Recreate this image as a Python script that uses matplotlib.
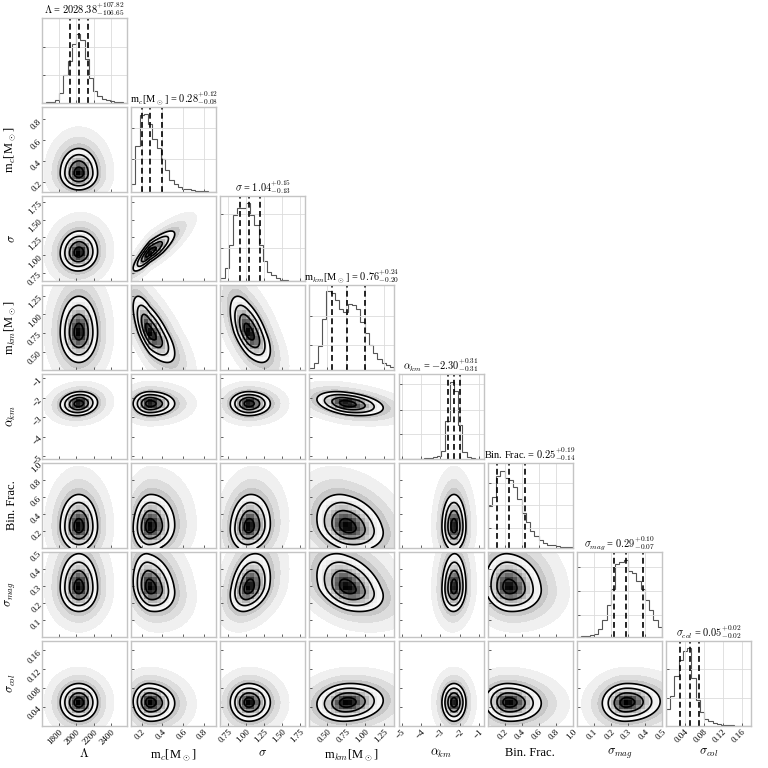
import numpy as np
import matplotlib
matplotlib.use("Agg")
import matplotlib.pyplot as plt
from matplotlib.colors import LinearSegmentedColormap

plt.rcParams['font.family'] = ['Liberation Serif', 'DejaVu Serif']
plt.rcParams['mathtext.fontset'] = 'cm'

# parameter names
labels = [r'$\Lambda$', r'm$_c$[M$_\odot$]', r'$\sigma$', r'm$_{km}$[M$_\odot$]',
          r'$\alpha_{km}$', 'Bin. Frac.', r'$\sigma_{mag}$', r'$\sigma_{col}$']

# summary values from the panel titles
medians = [2028.38, 0.28, 1.04, 0.76, -2.30, 0.25, 0.29, 0.05]
err_lo = [106.65, 0.08, 0.13, 0.20, 0.31, 0.14, 0.07, 0.02]
err_hi = [107.82, 0.12, 0.15, 0.24, 0.31, 0.19, 0.10, 0.02]

# axis ranges
ranges = [(1606, 2583), (0.10, 0.92), (0.64, 1.83), (0.26, 1.39),
          (-5.16, -0.77), (0.0, 1.0), (0.0, 0.5), (0.0, 0.18)]

ticks = [[1800, 2000, 2200, 2400], [0.2, 0.4, 0.6, 0.8], [0.75, 1.0, 1.25, 1.5, 1.75],
         [0.5, 0.75, 1.0, 1.25], [-5, -4, -3, -2, -1], [0.2, 0.4, 0.6, 0.8, 1.0],
         [0.1, 0.2, 0.3, 0.4, 0.5], [0.04, 0.08, 0.12, 0.16]]
tick_labels = [['1800', '2000', '2200', '2400'], ['0.2', '0.4', '0.6', '0.8'],
               ['0.75', '1.00', '1.25', '1.50', '1.75'], ['0.50', '0.75', '1.00', '1.25'],
               ['\u22125', '\u22124', '\u22123', '\u22122', '\u22121'],
               ['0.2', '0.4', '0.6', '0.8', '1.0'], ['0.1', '0.2', '0.3', '0.4', '0.5'],
               ['0.04', '0.08', '0.12', '0.16']]

# 1D histograms, 20 bins each (relative heights)
hist_lambda = [0.004, 0.006, 0.015, 0.04, 0.12, 0.33, 0.5, 0.7, 0.81, 0.74,
               0.52, 0.3, 0.14, 0.08, 0.05, 0.03, 0.02, 0.012, 0.006, 0.003]
hist_mc = [0.1, 0.54, 0.9, 0.92, 0.8, 0.62, 0.52, 0.39, 0.26, 0.14,
           0.09, 0.06, 0.04, 0.03, 0.02, 0.015, 0.01, 0.008, 0.005, 0.003]
hist_sigma = [0.03, 0.15, 0.42, 0.78, 0.86, 0.86, 0.92, 0.78, 0.66, 0.42,
              0.23, 0.11, 0.07, 0.03, 0.015, 0.01, 0.005, 0.003, 0.002, 0.001]
hist_mkm = [0.02, 0.08, 0.28, 0.6, 0.93, 0.9, 0.82, 0.72, 0.68, 0.78,
            0.76, 0.72, 0.56, 0.44, 0.3, 0.2, 0.13, 0.08, 0.06, 0.03]
hist_alpha = [0.003, 0.003, 0.003, 0.004, 0.004, 0.005, 0.008, 0.012, 0.02, 0.04,
              0.1, 0.45, 0.91, 0.8, 0.4, 0.08, 0.02, 0.008, 0.003, 0.001]
hist_binfrac = [0.49, 0.6, 0.85, 0.91, 0.82, 0.8, 0.72, 0.58, 0.41, 0.3,
                0.2, 0.14, 0.09, 0.06, 0.04, 0.03, 0.025, 0.015, 0.01, 0.008]
hist_smag = [0.005, 0.008, 0.012, 0.02, 0.04, 0.1, 0.2, 0.38, 0.56, 0.86,
             0.88, 0.9, 0.78, 0.75, 0.66, 0.56, 0.44, 0.32, 0.2, 0.12]
hist_scol = [0.2, 0.35, 0.59, 0.78, 0.88, 0.92, 0.57, 0.3, 0.16, 0.08,
             0.06, 0.03, 0.02, 0.015, 0.01, 0.008, 0.005, 0.003, 0.002, 0.001]
hists = [hist_lambda, hist_mc, hist_sigma, hist_mkm, hist_alpha, hist_binfrac, hist_smag, hist_scol]
hist_yticks = [[0.33, 0.66], [0.39, 0.75], [0.39, 0.79], [0.30, 0.63],
               [0.29, 0.58, 0.88], [0.24, 0.5, 0.76], [0.26, 0.54, 0.82], [0.33, 0.67]]

# pairwise correlations (row param vs column param)
corr = [
    [],
    [0.0],
    [0.05, 0.85],
    [0.0, -0.7, -0.6],
    [0.1, 0.0, 0.0, -0.35],
    [0.0, 0.05, 0.1, -0.25, 0.0],
    [0.0, -0.2, 0.3, -0.35, 0.05, -0.1],
    [0.0, -0.05, 0.0, 0.1, 0.0, -0.05, 0.05],
]

n = len(labels)
density_cmap = LinearSegmentedColormap.from_list('dens', [(1, 1, 1, 0), (0, 0, 0, 1)])
spine_col = '#c4c4c4'


def znorm(x, k):
    d = x - medians[k]
    return np.where(d < 0, d / err_lo[k], d / err_hi[k])


def dist2(xv, yv, j, i):
    zx = znorm(xv, j)
    zy = znorm(yv, i)
    r = corr[i][j]
    return (zx ** 2 + zy ** 2 - 2 * r * zx * zy) / (1 - r ** 2)


fig, axes = plt.subplots(n, n, figsize=(7.68, 7.68), dpi=100)
plt.subplots_adjust(left=42 / 768, right=751 / 768, bottom=42 / 768, top=750 / 768,
                    wspace=0.047, hspace=0.047)

for i in range(n):
    for j in range(n):
        ax = axes[i, j]
        if j > i:
            ax.axis('off')
            continue
        for s in ax.spines.values():
            s.set_color(spine_col)
            s.set_linewidth(1.0)
        ax.tick_params(direction='in', length=2.5, width=0.6, color='#444444',
                       labelsize=6.5, pad=1.5)
        ax.set_xlim(ranges[j])
        ax.set_xticks(ticks[j])
        if i == j:
            edges = np.linspace(ranges[i][0], ranges[i][1], len(hists[i]) + 1)
            ax.stairs(hists[i], edges, color='#555555', lw=0.8, baseline=0)
            ax.set_ylim(0, 1)
            ax.set_yticks(hist_yticks[i])
            ax.set_yticklabels([])
            ax.grid(True, color='#dcdcdc', lw=0.6)
            for q in (medians[i] - err_lo[i], medians[i], medians[i] + err_hi[i]):
                ax.axvline(q, color='k', ls='--', lw=1.2, dashes=(3.5, 2))
            name = labels[i]
            title = name + ' = ' + r'$%.2f^{+%.2f}_{-%.2f}$' % (medians[i], err_hi[i], err_lo[i])
            ax.set_title(title, fontsize=7.5, pad=1.5)
        else:
            ax.set_ylim(ranges[i])
            ax.set_yticks(ticks[i])
            xs = np.linspace(ranges[j][0], ranges[j][1], 220)
            ys = np.linspace(ranges[i][0], ranges[i][1], 220)
            X, Y = np.meshgrid(xs, ys)
            R2 = dist2(X, Y, j, i)
            # outer sample cloud
            ax.contourf(X, Y, R2, levels=[4, 6, 9, 14],
                        colors=['#c6c6c6', '#dddddd', '#f0f0f0'], zorder=1)
            # binned density
            xe = np.linspace(ranges[j][0], ranges[j][1], 21)
            ye = np.linspace(ranges[i][0], ranges[i][1], 21)
            XC, YC = np.meshgrid(0.5 * (xe[1:] + xe[:-1]), 0.5 * (ye[1:] + ye[:-1]))
            D = np.exp(-0.5 * dist2(XC, YC, j, i))
            D = np.where(D > np.exp(-2.6), D, 0)
            ax.pcolormesh(xe, ye, D, cmap=density_cmap, vmin=0, vmax=1.0, zorder=2)
            ax.contour(X, Y, R2, levels=[0.25, 1, 2.25, 4], colors='k',
                       linewidths=1.2, zorder=3)
        if i == n - 1:
            ax.set_xticklabels(tick_labels[j], rotation=45, ha='right',
                               rotation_mode='anchor')
            ax.set_xlabel(labels[j], fontsize=9)
            ax.xaxis.set_label_coords(0.5, -0.25)
        else:
            ax.set_xticklabels([])
        if j == 0 and i > 0:
            ax.set_yticklabels(tick_labels[i], rotation=45, ha='right',
                               rotation_mode='anchor')
            ax.set_ylabel(labels[i], fontsize=9)
            ax.yaxis.set_label_coords(-0.28, 0.5)
        elif i != j:
            ax.set_yticklabels([])

fig.savefig('out.png', dpi=100)
